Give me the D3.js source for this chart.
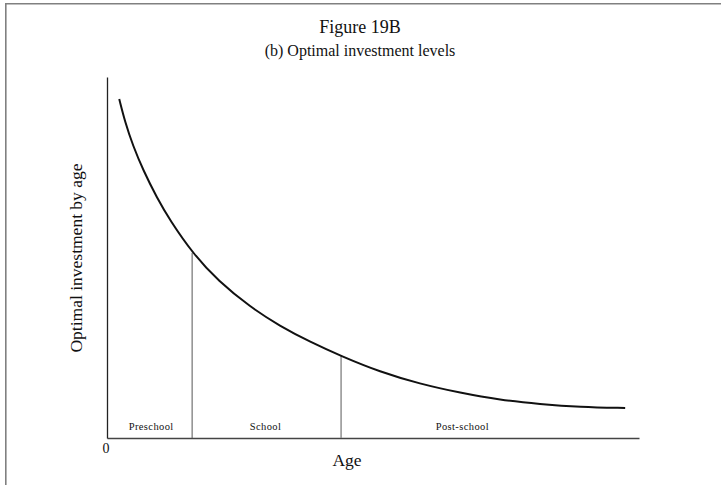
<!DOCTYPE html>
<html>
<head>
<meta charset="utf-8">
<script src="https://cdn.jsdelivr.net/npm/d3@7"></script>
<style>
  body { margin: 0; background: #fff; }
  svg text { font-family: "Liberation Serif", "Times New Roman", serif; fill: #111; }
</style>
</head>
<body>
<div id="chart"></div>
<script>
// curve (age in arbitrary units 0-100, investment 0-100)
const curveAge   = [2.3, 3.4, 4.9, 6.8, 9.4, 11.8, 16.2, 20.9, 26.9, 32.5, 38.2, 44.0, 51.3, 58.8, 66.4, 73.9, 81.4, 88.9, 97.4];
const curveLevel = [93.9, 87.5, 80.9, 74.2, 66.5, 60.4, 51.0, 43.5, 36.3, 31.0, 26.6, 22.7, 18.3, 15.0, 12.5, 10.5, 9.4, 8.6, 8.3];
// stage boundaries
const boundaryAge   = [16.0, 44.0];
const boundaryLevel = [51.3, 22.7];
// stage labels
const stageNames = ['Preschool', 'School', 'Post-school'];
const stageAt    = [8.3, 29.8, 66.8];

const width = 721, height = 485;
const margin = { top: 77, right: 82, bottom: 47, left: 107 };

const svg = d3.select('#chart').append('svg')
  .attr('width', width)
  .attr('height', height);

// frame --------------------------------------------------------------
svg.append('path')
  .attr('d', 'M5.8,' + height + 'V3.8H' + width)
  .attr('fill', 'none')
  .attr('stroke', '#808080')
  .attr('stroke-width', 1.6);

// scales -------------------------------------------------------------
const x = d3.scaleLinear()
  .domain([0, 100])
  .range([margin.left, width - margin.right]);
const y = d3.scaleLinear()
  .domain([0, 100])
  .range([height - margin.bottom, margin.top]);

// axes ---------------------------------------------------------------
svg.append('g')
  .attr('transform', 'translate(0,' + y(0) + ')')
  .call(d3.axisBottom(x).tickValues([]).tickSizeOuter(0))
  .select('.domain')
  .attr('stroke', '#444')
  .attr('stroke-width', 1.3);
svg.append('g')
  .attr('transform', 'translate(' + x(0) + ',0)')
  .call(d3.axisLeft(y).tickValues([]).tickSizeOuter(0))
  .select('.domain')
  .attr('stroke', '#222')
  .attr('stroke-width', 1.3);

// stage boundaries ---------------------------------------------------
svg.selectAll('.boundary')
  .data(boundaryAge)
  .enter()
  .append('line')
  .attr('class', 'boundary')
  .attr('x1', d => x(d))
  .attr('x2', d => x(d))
  .attr('y1', y(0))
  .attr('y2', (d, i) => y(boundaryLevel[i]))
  .attr('stroke', (d, i) => i === 0 ? '#555' : '#888')
  .attr('stroke-width', (d, i) => i === 0 ? 1 : 1.4);

// curve --------------------------------------------------------------
const line = d3.line()
  .x(d => x(d[0]))
  .y(d => y(d[1]))
  .curve(d3.curveBasis);
svg.append('path')
  .datum(curveAge.map((a, i) => [a, curveLevel[i]]))
  .attr('d', line)
  .attr('fill', 'none')
  .attr('stroke', '#111')
  .attr('stroke-width', 2);

// stage labels -------------------------------------------------------
svg.selectAll('.stage')
  .data(stageNames)
  .enter()
  .append('text')
  .attr('class', 'stage')
  .attr('x', (d, i) => x(stageAt[i]))
  .attr('y', y(0) - 8)
  .attr('text-anchor', 'middle')
  .attr('font-size', '10.5px')
  .attr('letter-spacing', '0.4px')
  .text(d => d);

// axis labels --------------------------------------------------------
svg.append('text')
  .attr('x', x(0) - 1)
  .attr('y', y(0) + 15)
  .attr('text-anchor', 'middle')
  .attr('font-size', '14px')
  .text('0');
svg.append('text')
  .attr('x', 347)
  .attr('y', 466)
  .attr('text-anchor', 'middle')
  .attr('font-size', '17.5px')
  .text('Age');
svg.append('text')
  .attr('transform', 'translate(82,258) rotate(-90)')
  .attr('text-anchor', 'middle')
  .attr('font-size', '17.5px')
  .text('Optimal investment by age');

// titles -------------------------------------------------------------
svg.append('text')
  .attr('x', 360)
  .attr('y', 33)
  .attr('text-anchor', 'middle')
  .attr('font-size', '18px')
  .text('Figure 19B');
svg.append('text')
  .attr('x', 360)
  .attr('y', 56)
  .attr('text-anchor', 'middle')
  .attr('font-size', '16px')
  .text('(b) Optimal investment levels');
</script>
</body>
</html>
